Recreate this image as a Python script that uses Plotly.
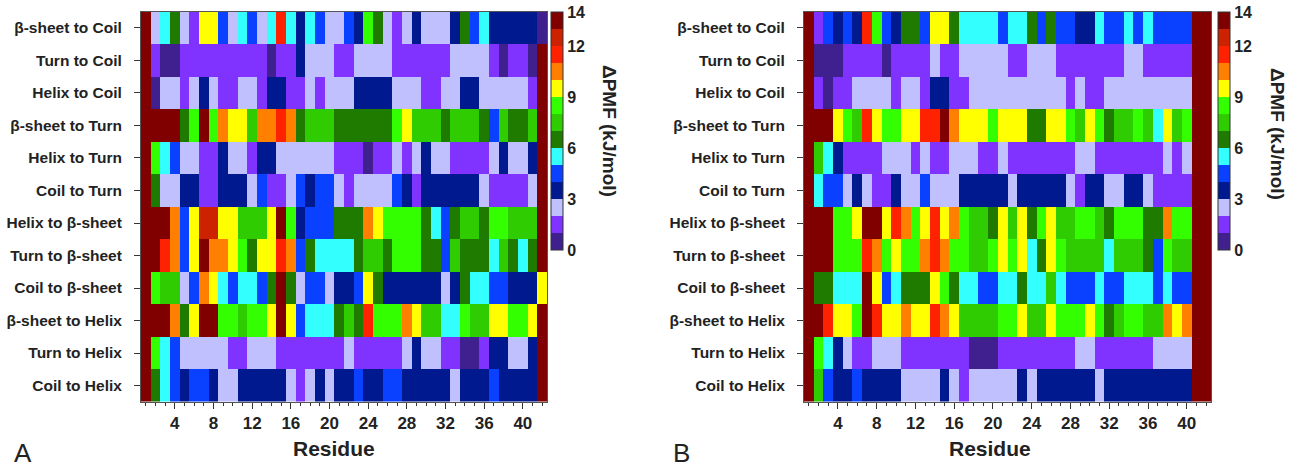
import plotly.graph_objects as go

W, H = 1297, 469
FONT = "Arial, Liberation Sans, sans-serif"

transitions = ["β-sheet to Coil", "Turn to Coil", "Helix to Coil", "β-sheet to Turn",
               "Helix to Turn", "Coil to Turn", "Helix to β-sheet", "Turn to β-sheet",
               "Coil to β-sheet", "β-sheet to Helix", "Turn to Helix", "Coil to Helix"]
residues = list(range(1, 43))
x_tick_vals = [4, 8, 12, 16, 20, 24, 28, 32, 36, 40]
cbar_ticks = [0, 3, 6, 9, 12, 14]

# Panel A (dPMF, kJ/mol), one list per transition, residues 1..42
a_bsheet_coil = [13.5,2.5,5.5,6.5,2.5,1.5,9.5,9.5,4.5,2.5,5.5,4.5,2.5,5.5,11.5,5.5,3.5,5.5,4.5,2.5,2.5,4.5,3.5,8.5,6.5,2.5,1.5,2.5,3.5,2.5,2.5,2.5,3.5,6.5,4.5,5.5,3.5,3.5,3.5,3.5,3.5,0.5]
a_turn_coil = [13.5,1.5,0.5,0.5,1.5,1.5,1.5,1.5,1.5,1.5,1.5,1.5,1.5,0.5,1.5,1.5,3.5,2.5,2.5,2.5,1.5,1.5,2.5,2.5,2.5,2.5,1.5,1.5,1.5,1.5,1.5,1.5,2.5,2.5,2.5,2.5,1.5,0.5,1.5,1.5,0.5,13.5]
a_helix_coil = [13.5,0.5,2.5,2.5,1.5,2.5,3.5,2.5,1.5,1.5,2.5,2.5,1.5,3.5,3.5,1.5,1.5,2.5,1.5,2.5,2.5,2.5,3.5,3.5,3.5,3.5,2.5,2.5,2.5,1.5,1.5,2.5,2.5,3.5,3.5,2.5,2.5,2.5,2.5,2.5,1.5,13.5]
a_bsheet_turn = [13.5,13.5,13.5,13.5,6.5,8.5,13.5,8.5,10.5,9.5,9.5,7.5,10.5,10.5,11.5,10.5,6.5,7.5,7.5,7.5,6.5,6.5,6.5,6.5,6.5,6.5,8.5,9.5,7.5,7.5,7.5,6.5,7.5,7.5,7.5,6.5,4.5,7.5,6.5,6.5,7.5,13.5]
a_helix_turn = [13.5,8.5,5.5,4.5,2.5,2.5,1.5,1.5,3.5,2.5,2.5,1.5,3.5,3.5,2.5,2.5,2.5,2.5,2.5,2.5,1.5,1.5,1.5,0.5,1.5,1.5,2.5,1.5,2.5,3.5,2.5,2.5,1.5,1.5,1.5,1.5,2.5,3.5,2.5,2.5,3.5,13.5]
a_coil_turn = [13.5,6.5,2.5,2.5,3.5,3.5,1.5,1.5,3.5,3.5,3.5,2.5,4.5,1.5,1.5,2.5,4.5,3.5,4.5,4.5,2.5,1.5,2.5,2.5,2.5,2.5,4.5,3.5,1.5,3.5,3.5,3.5,3.5,3.5,3.5,2.5,1.5,1.5,1.5,1.5,2.5,13.5]
a_helix_bsheet = [13.5,13.5,13.5,10.5,4.5,9.5,12.5,12.5,9.5,9.5,7.5,7.5,7.5,9.5,13.5,8.5,3.5,4.5,4.5,4.5,6.5,6.5,6.5,10.5,9.5,8.5,8.5,8.5,8.5,6.5,5.5,4.5,6.5,7.5,7.5,6.5,8.5,8.5,7.5,7.5,7.5,13.5]
a_turn_bsheet = [13.5,13.5,11.5,10.5,4.5,9.5,13.5,10.5,10.5,9.5,8.5,6.5,9.5,9.5,11.5,10.5,4.5,6.5,5.5,5.5,5.5,5.5,6.5,7.5,7.5,6.5,8.5,8.5,8.5,6.5,6.5,4.5,7.5,6.5,6.5,6.5,5.5,7.5,6.5,5.5,6.5,13.5]
a_coil_bsheet = [13.5,8.5,7.5,7.5,2.5,4.5,10.5,9.5,5.5,4.5,5.5,5.5,4.5,6.5,13.5,6.5,2.5,4.5,4.5,2.5,3.5,3.5,4.5,9.5,6.5,3.5,3.5,3.5,3.5,3.5,3.5,2.5,3.5,6.5,5.5,5.5,4.5,4.5,3.5,3.5,3.5,9.5]
a_bsheet_helix = [13.5,13.5,13.5,10.5,6.5,9.5,13.5,13.5,8.5,8.5,7.5,8.5,8.5,9.5,13.5,9.5,4.5,5.5,5.5,5.5,6.5,7.5,6.5,11.5,8.5,8.5,8.5,10.5,9.5,7.5,7.5,5.5,5.5,8.5,7.5,7.5,9.5,9.5,8.5,8.5,9.5,13.5]
a_turn_helix = [13.5,8.5,5.5,4.5,2.5,2.5,2.5,2.5,2.5,1.5,1.5,2.5,2.5,2.5,1.5,1.5,1.5,1.5,1.5,1.5,1.5,2.5,1.5,1.5,1.5,1.5,1.5,2.5,3.5,2.5,2.5,1.5,1.5,0.5,0.5,1.5,3.5,3.5,2.5,2.5,3.5,13.5]
a_coil_helix = [13.5,6.5,5.5,4.5,3.5,4.5,4.5,3.5,2.5,2.5,3.5,3.5,3.5,3.5,3.5,2.5,1.5,2.5,3.5,2.5,3.5,3.5,4.5,3.5,3.5,4.5,4.5,3.5,3.5,3.5,3.5,3.5,2.5,3.5,3.5,3.5,4.5,3.5,3.5,3.5,3.5,13.5]

# Panel B
b_bsheet_coil = [13.5,1.5,4.5,3.5,4.5,3.5,11.5,8.5,4.5,3.5,6.5,6.5,4.5,9.5,9.5,6.5,5.5,5.5,5.5,5.5,4.5,5.5,5.5,6.5,4.5,6.5,4.5,4.5,3.5,3.5,5.5,4.5,4.5,5.5,4.5,5.5,4.5,4.5,4.5,4.5,13.5,13.5]
b_turn_coil = [13.5,0.5,0.5,0.5,1.5,1.5,1.5,1.5,0.5,1.5,1.5,1.5,1.5,2.5,1.5,1.5,2.5,2.5,2.5,2.5,2.5,1.5,1.5,2.5,2.5,2.5,1.5,1.5,1.5,1.5,1.5,1.5,1.5,2.5,2.5,1.5,1.5,1.5,1.5,1.5,13.5,13.5]
b_helix_coil = [13.5,1.5,0.5,1.5,1.5,2.5,2.5,2.5,2.5,1.5,2.5,2.5,1.5,3.5,3.5,1.5,1.5,2.5,2.5,2.5,2.5,2.5,2.5,2.5,2.5,2.5,2.5,1.5,2.5,1.5,1.5,2.5,2.5,2.5,2.5,2.5,2.5,2.5,2.5,2.5,13.5,13.5]
b_bsheet_turn = [13.5,13.5,13.5,9.5,8.5,7.5,11.5,9.5,8.5,8.5,9.5,9.5,11.5,11.5,13.5,10.5,9.5,9.5,9.5,8.5,9.5,9.5,9.5,6.5,6.5,9.5,9.5,8.5,7.5,9.5,8.5,6.5,7.5,7.5,8.5,7.5,5.5,9.5,7.5,8.5,13.5,13.5]
b_helix_turn = [13.5,7.5,5.5,3.5,1.5,1.5,1.5,1.5,2.5,2.5,2.5,1.5,2.5,1.5,1.5,2.5,2.5,2.5,1.5,1.5,2.5,1.5,1.5,1.5,1.5,1.5,1.5,1.5,2.5,2.5,1.5,1.5,1.5,1.5,1.5,1.5,1.5,2.5,1.5,2.5,13.5,13.5]
b_coil_turn = [13.5,5.5,4.5,4.5,2.5,3.5,2.5,1.5,1.5,3.5,2.5,2.5,4.5,2.5,2.5,2.5,3.5,3.5,3.5,3.5,3.5,2.5,3.5,3.5,3.5,3.5,3.5,2.5,1.5,3.5,3.5,2.5,2.5,3.5,3.5,2.5,1.5,1.5,1.5,1.5,13.5,13.5]
b_helix_bsheet = [13.5,13.5,13.5,8.5,8.5,9.5,13.5,13.5,9.5,11.5,10.5,8.5,9.5,11.5,9.5,10.5,8.5,7.5,7.5,6.5,9.5,7.5,9.5,6.5,8.5,9.5,7.5,7.5,8.5,8.5,7.5,6.5,8.5,8.5,8.5,6.5,6.5,10.5,8.5,8.5,13.5,13.5]
b_turn_bsheet = [13.5,13.5,13.5,8.5,8.5,8.5,11.5,10.5,8.5,9.5,8.5,8.5,10.5,11.5,10.5,8.5,8.5,7.5,7.5,8.5,9.5,8.5,9.5,5.5,6.5,9.5,8.5,7.5,7.5,7.5,7.5,5.5,7.5,7.5,7.5,6.5,4.5,8.5,7.5,7.5,13.5,13.5]
b_coil_bsheet = [13.5,6.5,6.5,5.5,5.5,5.5,13.5,9.5,4.5,5.5,6.5,6.5,6.5,9.5,8.5,6.5,5.5,5.5,4.5,4.5,5.5,5.5,6.5,5.5,5.5,7.5,5.5,4.5,4.5,4.5,5.5,4.5,4.5,5.5,5.5,5.5,4.5,5.5,4.5,4.5,13.5,13.5]
b_bsheet_helix = [13.5,13.5,11.5,9.5,9.5,8.5,13.5,11.5,9.5,9.5,10.5,9.5,9.5,11.5,10.5,9.5,7.5,7.5,7.5,7.5,8.5,8.5,9.5,7.5,7.5,9.5,8.5,8.5,8.5,9.5,8.5,6.5,7.5,8.5,8.5,7.5,7.5,10.5,9.5,10.5,13.5,13.5]
b_turn_helix = [13.5,8.5,5.5,3.5,2.5,1.5,1.5,2.5,2.5,2.5,1.5,1.5,1.5,1.5,1.5,1.5,1.5,0.5,0.5,0.5,1.5,1.5,1.5,1.5,1.5,1.5,1.5,1.5,2.5,2.5,1.5,1.5,1.5,1.5,1.5,1.5,2.5,2.5,2.5,2.5,13.5,13.5]
b_coil_helix = [13.5,7.5,4.5,3.5,3.5,4.5,3.5,3.5,3.5,3.5,2.5,2.5,2.5,2.5,3.5,2.5,1.5,2.5,2.5,2.5,2.5,2.5,3.5,2.5,3.5,3.5,3.5,3.5,3.5,3.5,2.5,3.5,3.5,3.5,3.5,3.5,3.5,3.5,3.5,3.5,13.5,13.5]

band_colors = ["#40208f", "#8033ff", "#c0c0ff", "#00198f", "#0a40ff", "#33ffff", "#1f7a00",
               "#2ecc00", "#33ff00", "#ffff00", "#ff8000", "#ff2200", "#cc2200", "#800000"]

panel_a = [a_bsheet_coil, a_turn_coil, a_helix_coil, a_bsheet_turn, a_helix_turn, a_coil_turn,
           a_helix_bsheet, a_turn_bsheet, a_coil_bsheet, a_bsheet_helix, a_turn_helix, a_coil_helix]
panel_b = [b_bsheet_coil, b_turn_coil, b_helix_coil, b_bsheet_turn, b_helix_turn, b_coil_turn,
           b_helix_bsheet, b_turn_bsheet, b_coil_bsheet, b_bsheet_helix, b_turn_helix, b_coil_helix]

n = len(band_colors)
cscale = []
for i, c in enumerate(band_colors):
    cscale.append([i / n, c])
    cscale.append([(i + 1) / n, c])

def px(x):
    return x / W

def py(y):
    return 1 - y / H

fig = go.Figure()
fig.add_trace(go.Heatmap(z=panel_a, x=residues, y=transitions, coloraxis="coloraxis",
                         xaxis="x", yaxis="y", hoverongaps=False))
fig.add_trace(go.Heatmap(z=panel_b, x=residues, y=transitions, coloraxis="coloraxis2",
                         xaxis="x2", yaxis="y2", hoverongaps=False))

ydom = [py(401.8), py(11.7)]
axis_common = dict(showline=True, mirror=True, linecolor="#555", linewidth=1,
                   ticks="outside", tickcolor="#333", showgrid=False, zeroline=False)
xcommon = dict(axis_common, range=[0.5, 42.5], tickvals=x_tick_vals, ticklen=6,
               tickfont=dict(family=FONT, size=17, color="#222", weight="bold"),
               minor=dict(ticks="outside", dtick=1, tick0=0, ticklen=3, tickcolor="#333"))
ycommon = dict(axis_common, autorange="reversed", ticklen=6, domain=ydom,
               ticklabelstandoff=9,
               tickfont=dict(family=FONT, size=15.5, color="#222", weight="bold"))

cb_common = dict(thickness=12, len=238 / H, lenmode="fraction", y=py(131), yanchor="middle",
                 xanchor="left", xpad=0, ypad=0, tickvals=cbar_ticks, ticks="",
                 outlinewidth=1, outlinecolor="#333",
                 tickfont=dict(family=FONT, size=16, color="#222", weight="bold"))

fig.update_layout(
    width=W, height=H, margin=dict(l=0, r=0, t=0, b=0),
    paper_bgcolor="white", plot_bgcolor="white",
    font=dict(family=FONT, color="#222"),
    xaxis=dict(xcommon, domain=[px(141), px(547)], anchor="y"),
    yaxis=dict(ycommon, anchor="x"),
    xaxis2=dict(xcommon, domain=[px(804), px(1211)], anchor="y2"),
    yaxis2=dict(ycommon, anchor="x2"),
    coloraxis=dict(colorscale=cscale, cmin=0, cmax=14,
                   colorbar=dict(cb_common, x=px(551))),
    coloraxis2=dict(colorscale=cscale, cmin=0, cmax=14,
                    colorbar=dict(cb_common, x=px(1218))),
    showlegend=False,
)

annots = [
    dict(text="ΔPMF (kJ/mol)", x=px(610), y=py(131), textangle=90, size=19, bold=True),
    dict(text="ΔPMF (kJ/mol)", x=px(1278), y=py(134), textangle=90, size=19, bold=True),
    dict(text="Residue", x=px(334), y=py(448), textangle=0, size=21, bold=True),
    dict(text="Residue", x=px(990), y=py(448), textangle=0, size=21, bold=True),
    dict(text="A", x=px(23), y=py(453), textangle=0, size=26, bold=False),
    dict(text="B", x=px(681), y=py(453), textangle=0, size=26, bold=False),
]
for a in annots:
    fig.add_annotation(text=a["text"], x=a["x"], y=a["y"], xref="paper", yref="paper",
                       xanchor="center", yanchor="middle", showarrow=False,
                       textangle=a["textangle"],
                       font=dict(family=FONT, size=a["size"], color="#222",
                                 weight="bold" if a["bold"] else "normal"))

fig.write_html("out.html")
